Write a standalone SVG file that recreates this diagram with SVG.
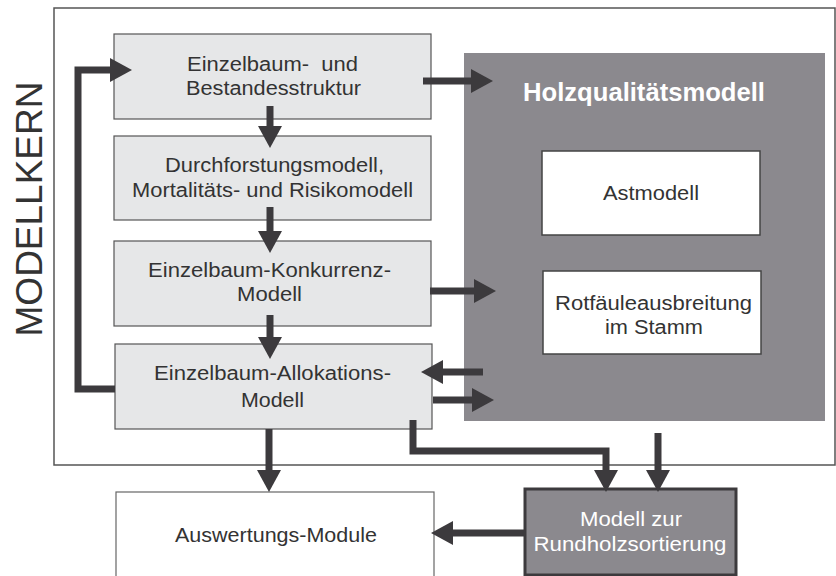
<svg xmlns="http://www.w3.org/2000/svg" width="836" height="576" viewBox="0 0 836 576">
<style>
.t{font-family:"Liberation Sans",Arial,sans-serif;font-size:19.5px;fill:#333;text-anchor:middle}
.w{fill:#fff}
.lb{fill:#e6e7e8;stroke:#555;stroke-width:1.2}
.wb{fill:#fff;stroke:#444;stroke-width:1.5}
.c{fill:none;stroke:#3c3a3d;stroke-width:7;stroke-linejoin:miter}
</style>
<defs>
<marker id="ah" markerUnits="userSpaceOnUse" viewBox="0 0 22 24" markerWidth="22" markerHeight="24" refX="1" refY="12" orient="auto">
<path d="M0,0 L22,12 L0,24 Z" fill="#3c3a3d"/>
</marker>
</defs>
<rect width="836" height="576" fill="#fff"/>
<g id="frame">
<rect x="54" y="8" width="781" height="457" fill="none" stroke="#555" stroke-width="1.5"/>
<text x="0" y="0" transform="translate(42,209) rotate(-90)" style="font-family:'Liberation Sans',Arial,sans-serif;font-size:37px;fill:#333;text-anchor:middle">MODELLKERN</text>
</g>
<g id="holz">
<rect x="464" y="53" width="361" height="368" fill="#8b898e"/>
<text x="644" y="101" style="font-family:'Liberation Sans',Arial,sans-serif;font-size:25px;font-weight:bold;fill:#fff;text-anchor:middle" textLength="242" lengthAdjust="spacingAndGlyphs">Holzqualitätsmodell</text>
</g>
<g id="ast">
<rect class="wb" x="542" y="151" width="218" height="84"/>
<text class="t" x="651" y="200" textLength="96" lengthAdjust="spacingAndGlyphs">Astmodell</text>
</g>
<g id="rotfaeule">
<rect class="wb" x="543" y="271" width="218" height="83"/>
<text class="t" x="653.5" y="310" textLength="197" lengthAdjust="spacingAndGlyphs">Rotfäuleausbreitung</text>
<text class="t" x="654" y="334" textLength="98" lengthAdjust="spacingAndGlyphs">im Stamm</text>
</g>
<g id="box1">
<rect class="lb" x="114" y="34" width="317" height="85"/>
<text class="t" x="272.5" y="71" textLength="171" lengthAdjust="spacingAndGlyphs" style="white-space:pre">Einzelbaum-  und</text>
<text class="t" x="273.5" y="95" textLength="175" lengthAdjust="spacingAndGlyphs">Bestandesstruktur</text>
</g>
<g id="box2">
<rect class="lb" x="114" y="136" width="317" height="84"/>
<text class="t" x="274.5" y="172" textLength="219" lengthAdjust="spacingAndGlyphs">Durchforstungsmodell,</text>
<text class="t" x="272.5" y="197" textLength="281" lengthAdjust="spacingAndGlyphs">Mortalitäts- und Risikomodell</text>
</g>
<g id="box3">
<rect class="lb" x="114" y="241" width="317" height="85"/>
<text class="t" x="269.5" y="277" textLength="243" lengthAdjust="spacingAndGlyphs">Einzelbaum-Konkurrenz-</text>
<text class="t" x="269.5" y="301" textLength="65" lengthAdjust="spacingAndGlyphs">Modell</text>
</g>
<g id="box4">
<rect class="lb" x="115" y="344" width="317" height="85"/>
<text class="t" x="272.5" y="380" textLength="237" lengthAdjust="spacingAndGlyphs">Einzelbaum-Allokations-</text>
<text class="t" x="272.5" y="407" textLength="63" lengthAdjust="spacingAndGlyphs">Modell</text>
</g>
<g id="auswertung">
<rect x="116" y="492" width="318" height="90" fill="#fff" stroke="#666" stroke-width="1.2"/>
<text class="t" x="276" y="542" textLength="202" lengthAdjust="spacingAndGlyphs">Auswertungs-Module</text>
</g>
<g id="rundholz">
<rect x="525" y="489" width="211" height="86" fill="#8b898e" stroke="#3c3a3d" stroke-width="3"/>
<text class="t w" x="631" y="526" textLength="102" lengthAdjust="spacingAndGlyphs">Modell zur</text>
<text class="t w" x="630" y="551" textLength="193" lengthAdjust="spacingAndGlyphs">Rundholzsortierung</text>
</g>
<g id="connectors">
<path class="c" d="M270,106 V127" marker-end="url(#ah)"/>
<path class="c" d="M270,207 V232" marker-end="url(#ah)"/>
<path class="c" d="M270,315 V338" marker-end="url(#ah)"/>
<path class="c" d="M269,429 V471" marker-end="url(#ah)"/>
<path class="c" d="M115,389 H78 V70 H111" marker-end="url(#ah)"/>
<path class="c" d="M423,81 H472" marker-end="url(#ah)"/>
<path class="c" d="M430,291 H475" marker-end="url(#ah)"/>
<path class="c" d="M483,372 H442" marker-end="url(#ah)"/>
<path class="c" d="M433,400 H473" marker-end="url(#ah)"/>
<path class="c" d="M413,420 V451 H606 V471" marker-end="url(#ah)"/>
<path class="c" d="M658,433 V471" marker-end="url(#ah)"/>
<path class="c" d="M525,533 H452" marker-end="url(#ah)"/>
</g>
</svg>
